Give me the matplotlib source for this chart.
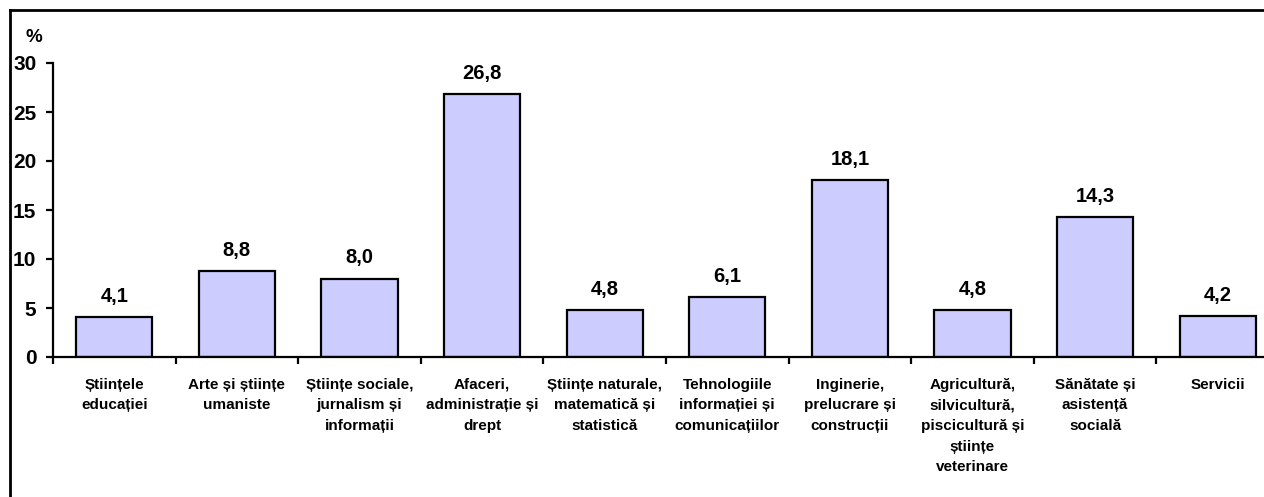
import matplotlib
matplotlib.use("Agg")
import matplotlib.pyplot as plt
import numpy as np
from matplotlib.lines import Line2D

plt.rcParams['font.family'] = ['Liberation Sans', 'DejaVu Sans']
plt.rcParams['font.weight'] = 'bold'

# date
categorii = ["Științele\neducației", "Arte și științe\numaniste",
             "Științe sociale,\njurnalism și\ninformații",
             "Afaceri,\nadministrație și\ndrept",
             "Științe naturale,\nmatematică și\nstatistică",
             "Tehnologiile\ninformației și\ncomunicațiilor",
             "Inginerie,\nprelucrare și\nconstrucții",
             "Agricultură,\nsilvicultură,\npiscicultură și\nștiințe\nveterinare",
             "Sănătate și\nasistență\nsocială", "Servicii"]
valori = [4.1, 8.8, 8.0, 26.8, 4.8, 6.1, 18.1, 4.8, 14.3, 4.2]
yticks = [0, 5, 10, 15, 20, 25, 30]

fig = plt.figure(figsize=(12.64, 4.97), dpi=100)
ax = fig.add_axes([53/1264, 1-357/497, (1279-53)/1264, (357-63)/497])

x = np.arange(len(valori))
ax.bar(x, valori, width=0.62, color='#CCCCFF', edgecolor='black', linewidth=1.6, zorder=2)

for xi, v in zip(x, valori):
    ax.annotate(f"{v:.1f}".replace('.', ','), (xi, v), xytext=(0, 8),
                textcoords='offset points', ha='center', va='bottom',
                fontsize=14.5, fontweight='bold')

ax.set_xlim(-0.5, 9.5)
ax.set_ylim(0, 30)
ax.set_yticks(yticks)
ax.set_yticklabels([str(t) for t in yticks], fontsize=15, fontweight='bold')

# tick marks at boundaries, labels at centers
ax.set_xticks(np.arange(-0.5, 10, 1))
ax.set_xticklabels([])
ax.set_xticks(x, minor=True)
ax.set_xticklabels(categorii, minor=True, fontsize=11, fontweight='bold', linespacing=1.6, va='top')
ax.tick_params(axis='x', which='major', length=5, width=1.6, direction='out')
ax.tick_params(axis='x', which='minor', length=0, pad=15)
ax.tick_params(axis='y', length=5, width=1.6, direction='out', pad=7)

for s in ['top', 'right']:
    ax.spines[s].set_visible(False)
for s in ['left', 'bottom']:
    ax.spines[s].set_linewidth(1.6)

fig.text(26/1264, 1-38/497, "%", fontsize=13.5, fontweight='bold', va='center', ha='left')

# chenar
fig.add_artist(Line2D([10/1264, 10/1264], [0, 1-10/497], color='black', linewidth=2, transform=fig.transFigure))
fig.add_artist(Line2D([10/1264, 1], [1-10/497, 1-10/497], color='black', linewidth=2, transform=fig.transFigure))

fig.savefig("out.png", dpi=100)
